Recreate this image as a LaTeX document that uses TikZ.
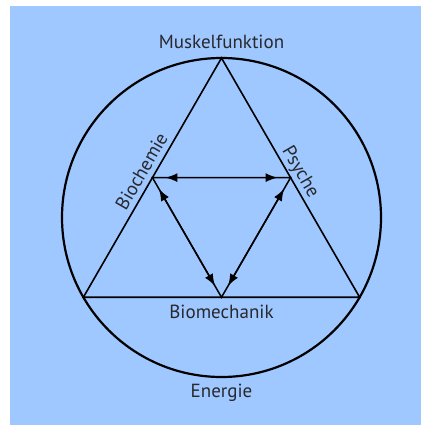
\documentclass[tikz,border=0pt]{standalone}
\usepackage{fontspec}
\setmainfont{PT Sans}
\usetikzlibrary{arrows.meta,calc}
\definecolor{bgblue}{RGB}{158,200,255}
\definecolor{txt}{RGB}{40,40,45}
\begin{document}
\begin{tikzpicture}[x=1pt,y=-1pt,
  lbl/.style={text=txt,font=\fontsize{19}{21}\selectfont,inner sep=0pt},
  edge/.style={line width=1.6pt,black},
  ring/.style={line width=2.2pt,black},
  dbl/.style={line width=1.5pt,{Latex[length=12pt,width=9pt]}-{Latex[length=12pt,width=9pt]},shorten <=13pt,shorten >=13pt}]
\useasboundingbox (0,0) rectangle (422,425);
\fill[white] (0,0) rectangle (422,425);
\fill[bgblue] (10,6) rectangle (421,425);
\coordinate (C) at (221.5,217.5);
\coordinate (A) at (221.5,58);
\coordinate (BL) at (83.37,297.25);
\coordinate (BR) at (359.63,297.25);
\coordinate (ML) at ($(A)!0.5!(BL)$);
\coordinate (MR) at ($(A)!0.5!(BR)$);
\coordinate (MB) at ($(BL)!0.5!(BR)$);
\draw[ring] (C) circle[radius=159.5];
\draw[edge] (A) -- (BL) -- (BR) -- cycle;
\draw[line width=1.5pt] (ML) -- (MR) -- (MB) -- cycle;
\draw[dbl] (ML) -- (MR);
\draw[dbl] (ML) -- (MB);
\draw[dbl] (MR) -- (MB);
\node[lbl] (mus) at (221.5,42) {Muskelfunktion};
\node[lbl] (bme) at (221.5,312) {Biomechanik};
\node[lbl] (ene) at (221.5,393) {Energie};
\node[lbl,anchor=base,rotate=60] (bch) at ($(ML)+(-5.2,-3)$) {Biochemie};
\node[lbl,anchor=base,rotate=-60] (psy) at ($(MR)+(5.2,-3)$) {Psyche};
\end{tikzpicture}
\end{document}
